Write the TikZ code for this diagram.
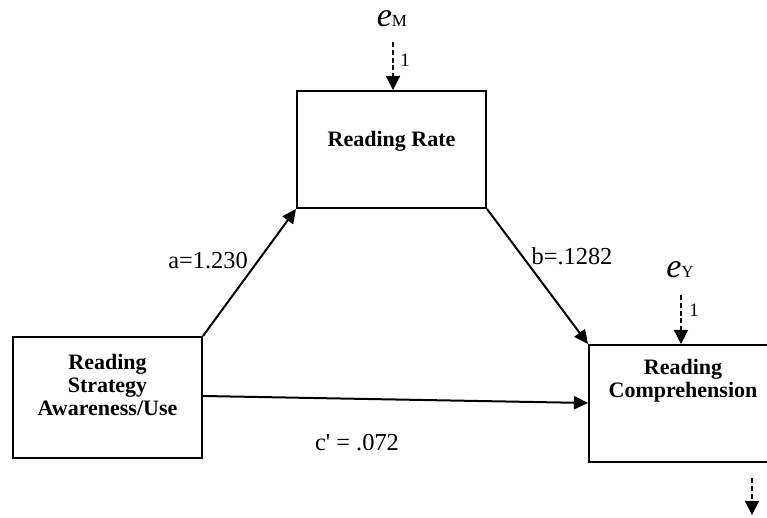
\documentclass[tikz,border=0pt]{standalone}
\usepackage{fontspec}
\setmainfont{Liberation Serif}
\usetikzlibrary{arrows.meta}
\begin{document}
\begin{tikzpicture}[x=0.5pt,y=-0.5pt,
  boxnode/.style={draw, line width=1pt, inner sep=0pt},
  boxtext/.style={align=center, inner sep=0pt, font=\fontsize{11}{11.5}\selectfont\bfseries},
  pathlabel/.style={inner sep=0pt, font=\fontsize{12.2}{14}\selectfont},
  errlabel/.style={inner sep=0pt, font=\fontsize{17}{19}\selectfont},
  onelabel/.style={inner sep=0pt, font=\fontsize{9.5}{11}\selectfont},
  solidarrow/.style={line width=1pt, -{Triangle[length=7pt,width=6.5pt]}},
  dasharrow/.style={line width=0.6pt, dash pattern=on 2.5pt off 1.4pt, -{Triangle[length=7pt,width=7pt]}}
]
\useasboundingbox (0,0) rectangle (767,518);
% boxes
\node[boxnode, minimum width=94.5pt, minimum height=60.5pt] (L) at (107.5,397.5) {};
\node[boxnode, minimum width=94.5pt, minimum height=58.5pt] (RR) at (391.5,149.5) {};
\node[boxnode, minimum width=94pt, minimum height=58.5pt] (RC) at (683,403.5) {};
% box texts
\node[boxtext] (Lt) at (107.5,385) {Reading\\Strategy\\Awareness/Use};
\node[boxtext] (RRt) at (391.5,141) {Reading Rate};
\node[boxtext] (RCt) at (683,381) {Reading\\Comprehension};
% paths
\draw[solidarrow] (L.north east) -- (RR.south west);
\draw[solidarrow] (RR.south east) -- (RC.north west);
\draw[solidarrow] ([yshift=0.75pt]L.east) -- ([yshift=0.25pt]RC.west);
\node[pathlabel] (la) at (208,261) {a=1.230};
\node[pathlabel] (lb) at (572,256) {b=.1282};
\node[pathlabel] (lc) at (357,443) {c\textquotesingle{} = .072};
% error terms
\node[errlabel, anchor=base] (eM) at (392,27) {\textit{e}{\fontsize{8.5}{10}\selectfont M}};
\node[errlabel, anchor=base] (eY) at (680,278) {\textit{e}{\fontsize{8.5}{10}\selectfont Y}};
\coordinate (eMs) at (393,42);
\coordinate (eYs) at (681,295);
\draw[dasharrow] (eMs) -- (eMs |- RR.north);
\draw[dasharrow] (eYs) -- (eYs |- RC.north);
\node[onelabel] (oneM) at (405,60) {1};
\node[onelabel] (oneY) at (694,310) {1};
% residual arrow at bottom
\coordinate (resA) at (752,478);
\coordinate (resB) at (752,515);
\draw[dasharrow] (resA) -- (resB);
\end{tikzpicture}
\end{document}
